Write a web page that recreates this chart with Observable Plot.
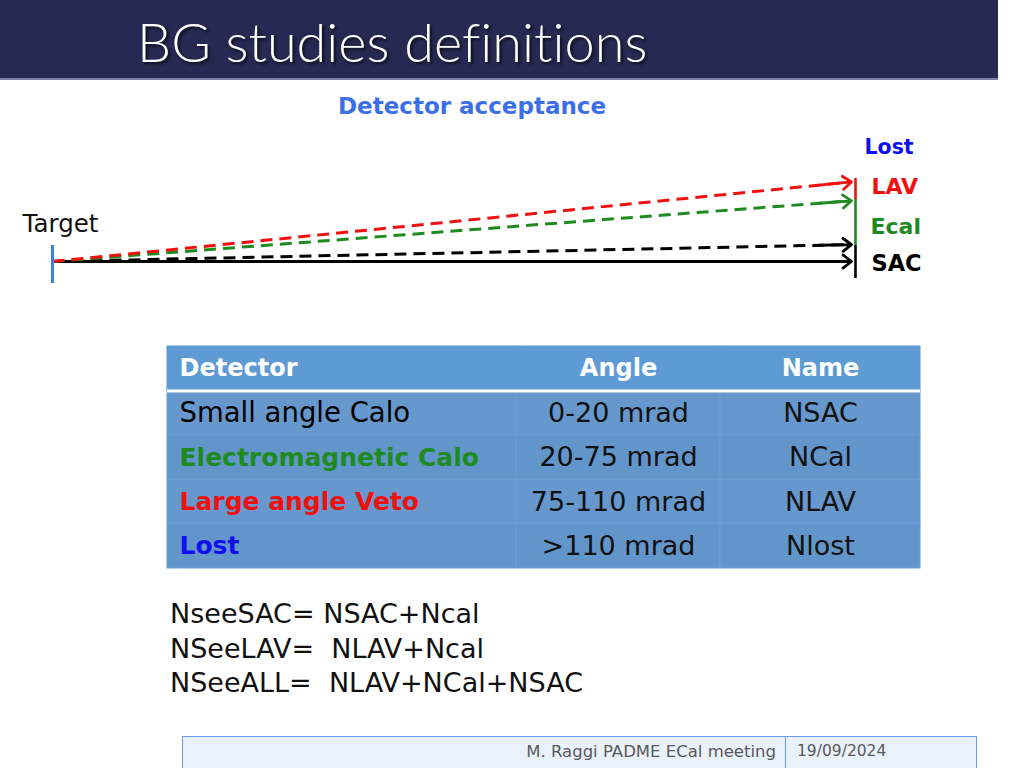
<!DOCTYPE html>
<html><head><meta charset="utf-8">
<script src="https://cdn.jsdelivr.net/npm/d3@7"></script>
<script src="https://cdn.jsdelivr.net/npm/@observablehq/plot@0.6"></script>
<style>
html,body{margin:0;padding:0;background:#fff;width:1024px;height:768px;overflow:hidden;position:relative;font-family:"DejaVu Sans",sans-serif}
.abs{position:absolute;white-space:pre;line-height:1}
#header{left:0;top:0;width:998px;height:78px;background:#262a52;border-bottom:2px solid #7d83a6}
#title{left:137px;top:15px;color:#fff;font-family:Lato,"Open Sans",sans-serif;font-weight:300;font-size:54px;font-variant-ligatures:none;text-shadow:2px 2px 3px rgba(0,0,0,0.7)}
#subtitle{left:0;top:95px;width:944px;text-align:center;color:#3b6fe8;font-weight:bold;font-size:23px}
#diagram{left:0;top:88px}
#table{left:167px;top:346px}
.formula{left:170px;font-size:27px;color:#111}
#footer{left:182px;top:736px;width:793px;height:40px;background:#e9f1fb;border:1.5px solid #6a9be0}
#footdiv{left:785px;top:736px;width:0;height:40px;border-left:1.5px solid #6a9be0}
.foot{top:744px;color:#595959}
</style></head>
<body>
<script>
// ---- data ----
const title = "BG studies definitions";
const subtitle = "Detector acceptance";
const rayNames = ["SAC axis", "SAC edge", "Ecal edge", "LAV edge"];
const rayEnds = [0, 17, 61, 80];          // drawn transverse offset at detector plane
const rayDashed = [false, true, true, true];
const planeNames = ["LAV", "Ecal", "SAC"];
const planeLow = [62, 16, -17];
const planeHigh = [83, 62, 16];
const targetLow = -22, targetHigh = 16;
const labelTexts = ["Lost", "LAV", "Ecal", "SAC"];
const labelOffsets = [114, 75, 35, -2];
const targetLabel = "Target";
const targetLabelOffset = 37;
const tableHeader = ["Detector", "Angle", "Name"];
const detectors = ["Small angle Calo", "Electromagnetic Calo", "Large angle Veto", "Lost"];
const angles = ["0-20 mrad", "20-75 mrad", "75-110 mrad", ">110 mrad"];
const names = ["NSAC", "NCal", "NLAV", "Nlost"];
const formulas = ["NseeSAC= NSAC+Ncal", "NSeeLAV=  NLAV+Ncal", "NSeeALL=  NLAV+NCal+NSAC"];
const footerText = "M. Raggi PADME ECal meeting";
const footerDate = "19/09/2024";

// ---- styles ----
const RED = "#f01010", GREEN = "#1f8a1f", BLUE = "#1010ee", BLACK = "#000";
const rayColor = {"SAC axis": BLACK, "SAC edge": BLACK, "Ecal edge": GREEN, "LAV edge": RED};
const planeColor = {LAV: RED, Ecal: GREEN, SAC: BLACK};
const labelColor = {Lost: BLUE, LAV: RED, Ecal: GREEN, SAC: BLACK};
const labelDx = {Lost: 9, LAV: 16, Ecal: 15, SAC: 16};
const labelSize = {Lost: 20.5, LAV: 22, Ecal: 22, SAC: 22.5};
const detectorColor = [BLACK, GREEN, RED, BLUE];
const detectorBold = [false, true, true, true];
const colEdges = [0, 349 / 753, 553 / 753, 1];

function add(html, cls, id, style) {
  const d = document.createElement("div");
  d.className = "abs " + (cls || "");
  if (id) d.id = id;
  if (style) d.style.cssText = style;
  d.textContent = html;
  document.body.appendChild(d);
  return d;
}

add("", "", "header");
add(title, "", "title");
add(subtitle, "", "subtitle");

// ---- diagram ----
const rays = rayNames.map((n, i) => ({name: n, end: rayEnds[i], dashed: rayDashed[i]}));
const planes = planeNames.map((n, i) => ({name: n, low: planeLow[i], high: planeHigh[i]}));
const labels = labelTexts.map((t, i) => ({text: t, y: labelOffsets[i]}));
const xEnd = 0.985, xHead0 = 0.955, xTip = 0.995;

const diagram = Plot.plot({
  width: 1024, height: 207,
  marginLeft: 52, marginRight: 169, marginTop: 0, marginBottom: 0,
  x: {domain: [0, 1], axis: null},
  y: {domain: [-34, 173], axis: null},
  color: {type: "identity"},
  style: {background: "transparent", overflow: "visible"},
  marks: [
    Plot.link(rays.filter(d => !d.dashed), {x1: 0, y1: 0, x2: xEnd, y2: d => d.end * xEnd,
      stroke: d => rayColor[d.name], strokeWidth: 2.8}),
    Plot.link(rays.filter(d => d.dashed), {x1: 0, y1: 0, x2: xEnd, y2: d => d.end * xEnd,
      stroke: d => rayColor[d.name], strokeWidth: 3, strokeDasharray: "12,7"}),
    Plot.arrow(rays, {x1: xHead0, y1: d => d.end * xHead0, x2: xTip, y2: d => d.end * xTip,
      stroke: d => rayColor[d.name], strokeWidth: 2.8, headLength: 6, headAngle: 75}),
    Plot.ruleX(planes, {x: 1, y1: "low", y2: "high", stroke: d => planeColor[d.name], strokeWidth: 2.6}),
    Plot.ruleX([0], {x: d => d, y1: targetLow, y2: targetHigh, stroke: "#3a86d6", strokeWidth: 3}),
    ...labels.map(l => Plot.text([l], {x: 1, y: "y", text: "text", dx: labelDx[l.text], textAnchor: "start",
      fill: labelColor[l.text], fontWeight: "bold", fontSize: labelSize[l.text], fontFamily: "DejaVu Sans"})),
    Plot.text([targetLabel], {x: 0, y: targetLabelOffset, text: d => d, dx: 8, textAnchor: "middle",
      fill: "#111", fontSize: 24.5, fontFamily: "DejaVu Sans"})
  ]
});
diagram.id = "diagram";
diagram.classList.add("abs");
document.body.appendChild(diagram);

// ---- table ----
const cells = [];
tableHeader.forEach((t, j) => cells.push({row: 0, col: j, text: t}));
detectors.forEach((d, i) => {
  cells.push({row: i + 1, col: 0, text: d});
  cells.push({row: i + 1, col: 1, text: angles[i]});
  cells.push({row: i + 1, col: 2, text: names[i]});
});
const rowFill = r => r === 0 ? "#5e9ad4" : (r % 2 ? "#6698cd" : "#6296cb");
const cx = d => d.col === 0 ? colEdges[0] : (colEdges[d.col] + colEdges[d.col + 1]) / 2;
const cy = d => d.row + 0.5;

const table = Plot.plot({
  width: 753, height: 222, margin: 0,
  x: {domain: [0, 1], range: [0, 753], axis: null},
  y: {domain: [0, 5], range: [0, 222], axis: null},
  color: {type: "identity"},
  style: {background: "transparent", overflow: "visible"},
  marks: [
    Plot.rect(cells, {x1: d => colEdges[d.col], x2: d => colEdges[d.col + 1], y1: "row", y2: d => d.row + 1,
      fill: d => rowFill(d.row), stroke: d => d.row === 0 ? rowFill(0) : "#6a9dd2", strokeWidth: 1}),
    Plot.ruleY([1], {y: d => d, stroke: "white", strokeWidth: 3}),
    Plot.text(cells.filter(d => d.row === 0 && d.col === 0), {x: cx, y: cy, text: "text", dx: 12, textAnchor: "start",
      fill: "white", fontWeight: "bold", fontSize: 24, fontFamily: "DejaVu Sans"}),
    Plot.text(cells.filter(d => d.row === 0 && d.col > 0), {x: cx, y: cy, text: "text", textAnchor: "middle",
      fill: "white", fontWeight: "bold", fontSize: 24, fontFamily: "DejaVu Sans"}),
    Plot.text(cells.filter(d => d.row > 0 && d.col === 0 && !detectorBold[d.row - 1]), {x: cx, y: cy, text: "text", dx: 12,
      textAnchor: "start", fill: d => detectorColor[d.row - 1], fontSize: 27.5, fontFamily: "DejaVu Sans"}),
    Plot.text(cells.filter(d => d.row > 0 && d.col === 0 && detectorBold[d.row - 1]), {x: cx, y: cy, text: "text", dx: 12,
      textAnchor: "start", fill: d => detectorColor[d.row - 1], fontWeight: "bold", fontSize: 25, fontFamily: "DejaVu Sans"}),
    Plot.text(cells.filter(d => d.row > 0 && d.col > 0), {x: cx, y: cy, text: "text", textAnchor: "middle",
      fill: "#111", fontSize: 27, fontFamily: "DejaVu Sans"})
  ]
});
table.id = "table";
table.classList.add("abs");
document.body.appendChild(table);

// ---- formulas ----
const formulaTops = [600, 635, 669];
formulas.forEach((f, i) => add(f, "formula", null, "top:" + formulaTops[i] + "px"));

// ---- footer ----
add("", "", "footer");
add("", "", "footdiv");
add(footerText, "foot", null, "left:182px;width:594px;text-align:right;font-size:16.5px");
add(footerDate, "foot", null, "left:797px;font-size:15.5px");
</script>
</body></html>
